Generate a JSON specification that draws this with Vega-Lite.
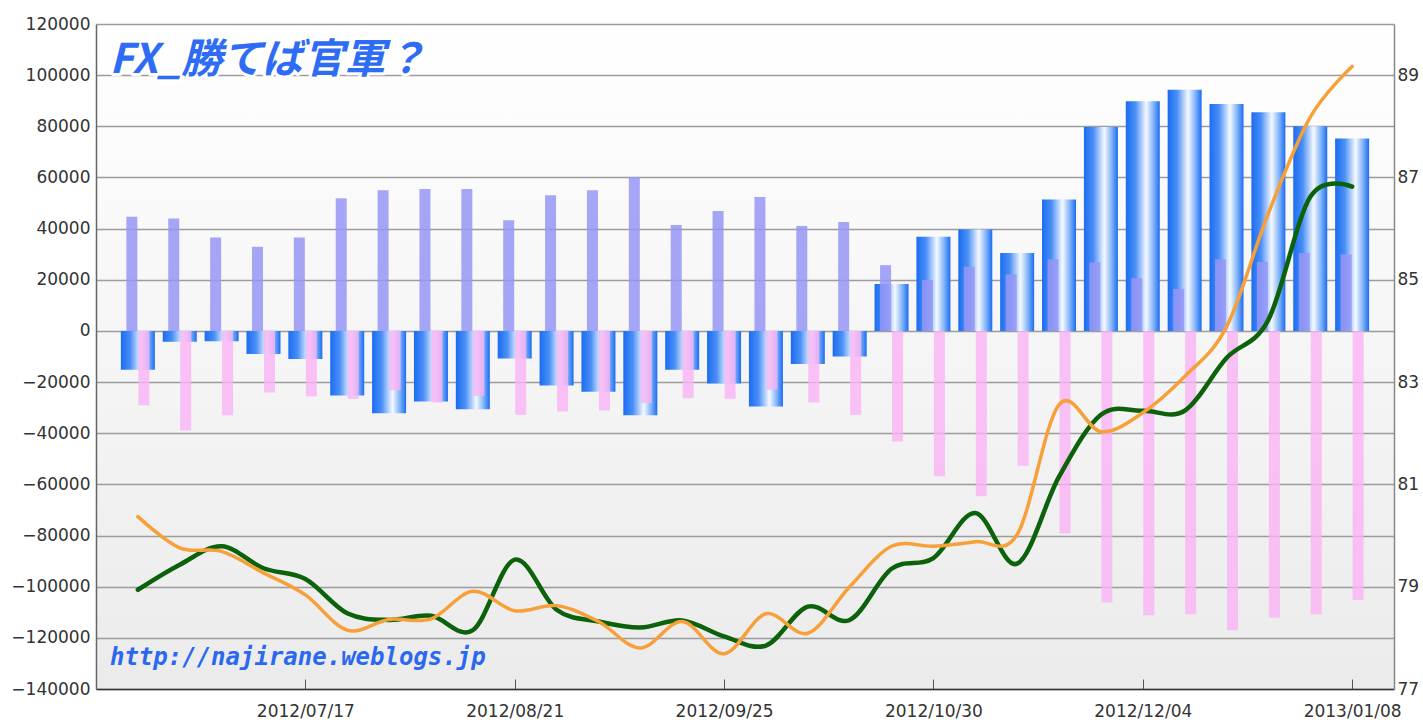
{
  "$schema": "https://vega.github.io/schema/vega-lite/v6.json",
  "width": 1298,
  "height": 665,
  "autosize": {"type": "none"},
  "padding": {"left": 96, "top": 24, "right": 29, "bottom": 31},
  "background": "#ffffff",
  "config": {
    "view": {"stroke": null, "fill": {"gradient": "linear", "x1": 0, "y1": 0, "x2": 0, "y2": 1, "stops": [{"offset": 0, "color": "#ffffff"}, {"offset": 1, "color": "#ebebeb"}]}},
    "axis": {"labelFont": "DejaVu Sans", "labelFontSize": 17, "labelColor": "#333333", "grid": false, "ticks": false}
  },
  "data": {"values": [
    {"week": "2012-06-19", "long": 44600, "short": -29100, "net": -15200, "rate1": 78.94, "rate2": 80.37},
    {"week": "2012-06-26", "long": 44000, "short": -38900, "net": -4200, "rate1": 79.43, "rate2": 79.76},
    {"week": "2012-07-03", "long": 36500, "short": -33000, "net": -4000, "rate1": 79.79, "rate2": 79.69},
    {"week": "2012-07-10", "long": 32900, "short": -24100, "net": -9000, "rate1": 79.36, "rate2": 79.27},
    {"week": "2012-07-17", "long": 36500, "short": -25600, "net": -11000, "rate1": 79.15, "rate2": 78.84},
    {"week": "2012-07-24", "long": 51900, "short": -26600, "net": -25200, "rate1": 78.48, "rate2": 78.15},
    {"week": "2012-07-31", "long": 55000, "short": -23200, "net": -32200, "rate1": 78.35, "rate2": 78.36},
    {"week": "2012-08-07", "long": 55500, "short": -28000, "net": -27600, "rate1": 78.43, "rate2": 78.37},
    {"week": "2012-08-14", "long": 55500, "short": -25400, "net": -30600, "rate1": 78.15, "rate2": 78.91},
    {"week": "2012-08-21", "long": 43300, "short": -32800, "net": -10800, "rate1": 79.53, "rate2": 78.53},
    {"week": "2012-08-28", "long": 53000, "short": -31500, "net": -21300, "rate1": 78.55, "rate2": 78.63},
    {"week": "2012-09-04", "long": 55000, "short": -31100, "net": -23800, "rate1": 78.32, "rate2": 78.32},
    {"week": "2012-09-11", "long": 60200, "short": -28200, "net": -33000, "rate1": 78.2, "rate2": 77.8},
    {"week": "2012-09-18", "long": 41400, "short": -26300, "net": -15200, "rate1": 78.34, "rate2": 78.32},
    {"week": "2012-09-25", "long": 46900, "short": -26500, "net": -20600, "rate1": 78.03, "rate2": 77.69},
    {"week": "2012-10-02", "long": 52400, "short": -23000, "net": -29500, "rate1": 77.85, "rate2": 78.47},
    {"week": "2012-10-09", "long": 41000, "short": -28000, "net": -12900, "rate1": 78.61, "rate2": 78.09},
    {"week": "2012-10-16", "long": 42600, "short": -32800, "net": -10000, "rate1": 78.35, "rate2": 79.0},
    {"week": "2012-10-23", "long": 25700, "short": -43200, "net": 18300, "rate1": 79.35, "rate2": 79.79},
    {"week": "2012-10-30", "long": 19900, "short": -56800, "net": 36800, "rate1": 79.56, "rate2": 79.79},
    {"week": "2012-11-06", "long": 25100, "short": -64600, "net": 39700, "rate1": 80.44, "rate2": 79.88},
    {"week": "2012-11-13", "long": 22100, "short": -52700, "net": 30500, "rate1": 79.45, "rate2": 80.02},
    {"week": "2012-11-20", "long": 28000, "short": -79200, "net": 51400, "rate1": 81.15, "rate2": 82.56},
    {"week": "2012-11-27", "long": 26800, "short": -106200, "net": 79700, "rate1": 82.36, "rate2": 82.03},
    {"week": "2012-12-04", "long": 20600, "short": -111200, "net": 89800, "rate1": 82.44, "rate2": 82.4},
    {"week": "2012-12-11", "long": 16400, "short": -110800, "net": 94300, "rate1": 82.44, "rate2": 83.11},
    {"week": "2012-12-18", "long": 28000, "short": -117000, "net": 88700, "rate1": 83.47, "rate2": 84.08},
    {"week": "2012-12-25", "long": 27000, "short": -112100, "net": 85500, "rate1": 84.22, "rate2": 86.3},
    {"week": "2013-01-01", "long": 30500, "short": -110800, "net": 80000, "rate1": 86.62, "rate2": 88.18},
    {"week": "2013-01-08", "long": 29900, "short": -105200, "net": 75200, "rate1": 86.82, "rate2": 89.17}
  ]},
  "layer": [
    {
      "layer": [
        {
          "mark": {"type": "bar", "width": 34, "color": {"gradient": "linear", "x1": 0, "y1": 0, "x2": 1, "y2": 0, "stops": [{"offset": 0, "color": "#1b6cf2"}, {"offset": 0.28, "color": "#4a8ff6"}, {"offset": 0.6, "color": "#f5f9ff"}, {"offset": 0.82, "color": "#7fb2f9"}, {"offset": 1, "color": "#1b6cf2"}]}},
          "encoding": {
            "x": {
              "field": "week", "type": "temporal",
              "scale": {"type": "utc", "padding": 0, "domain": [{"year": 2012, "month": 6, "date": 12, "utc": true}, {"year": 2013, "month": 1, "date": 15, "utc": true}]},
              "axis": {
                "title": null,
                "values": [
                  {"year": 2012, "month": 7, "date": 17, "utc": true},
                  {"year": 2012, "month": 8, "date": 21, "utc": true},
                  {"year": 2012, "month": 9, "date": 25, "utc": true},
                  {"year": 2012, "month": 10, "date": 30, "utc": true},
                  {"year": 2012, "month": 12, "date": 4, "utc": true},
                  {"year": 2013, "month": 1, "date": 8, "utc": true}
                ],
                "format": "%Y/%m/%d", "ticks": true, "tickSize": -10, "tickColor": "#555555", "tickWidth": 1,
                "labelPadding": 24, "labelOverlap": false, "labelFlush": false,
                "domainColor": "#333333", "domainWidth": 1.5
              }
            },
            "y": {
              "field": "net", "type": "quantitative",
              "scale": {"domain": [-140000, 120000], "nice": false},
              "axis": {"title": null, "orient": "left", "values": [-140000, -120000, -100000, -80000, -60000, -40000, -20000, 0, 20000, 40000, 60000, 80000, 100000, 120000], "format": "d", "grid": true, "gridColor": "#9c9c9c", "gridWidth": 1.3, "labelPadding": 6, "domainColor": "#666666", "domainWidth": 1.5}
            }
          }
        },
        {
          "mark": {"type": "bar", "width": 11, "xOffset": -6, "color": "#9696f6", "opacity": 0.85},
          "encoding": {
            "x": {"field": "week", "type": "temporal", "axis": {"title": null}},
            "y": {"field": "long", "type": "quantitative", "axis": {"title": null}}
          }
        },
        {
          "mark": {"type": "bar", "width": 11, "xOffset": 6, "color": "#f9b3f4", "opacity": 0.8},
          "encoding": {
            "x": {"field": "week", "type": "temporal", "axis": {"title": null}},
            "y": {"field": "short", "type": "quantitative", "axis": {"title": null}}
          }
        },
        {
          "data": {"values": [{}]},
          "mark": {"type": "text", "text": "FX_勝てば官軍？", "font": "Noto Sans CJK JP", "fontSize": 41, "fontWeight": "bold", "fontStyle": "italic", "align": "left", "baseline": "alphabetic", "color": "#ffffff", "stroke": "#ffffff", "strokeWidth": 6, "strokeJoin": "round"},
          "encoding": {
            "x": {"datum": {"year": 2012, "month": 6, "date": 14, "hours": 6, "utc": true}, "type": "temporal"},
            "y": {"datum": 100900, "type": "quantitative"}
          }
        },
        {
          "data": {"values": [{}]},
          "mark": {"type": "text", "text": "FX_勝てば官軍？", "font": "Noto Sans CJK JP", "fontSize": 41, "fontWeight": "bold", "fontStyle": "italic", "align": "left", "baseline": "alphabetic", "color": "#2e6cf5"},
          "encoding": {
            "x": {"datum": {"year": 2012, "month": 6, "date": 14, "hours": 6, "utc": true}, "type": "temporal"},
            "y": {"datum": 100900, "type": "quantitative"}
          }
        },
        {
          "data": {"values": [{}]},
          "mark": {"type": "text", "text": "http://najirane.weblogs.jp", "font": "DejaVu Sans Mono", "fontSize": 24, "fontWeight": "bold", "fontStyle": "italic", "align": "left", "baseline": "alphabetic", "color": "#2a68f2"},
          "encoding": {
            "x": {"datum": {"year": 2012, "month": 6, "date": 14, "hours": 8, "utc": true}, "type": "temporal"},
            "y": {"datum": -130800, "type": "quantitative"}
          }
        }
      ]
    },
    {
      "layer": [
        {
          "mark": {"type": "line", "interpolate": "cardinal", "color": "#0b620b", "strokeWidth": 4.5, "strokeCap": "round"},
          "encoding": {
            "x": {"field": "week", "type": "temporal", "axis": {"title": null}},
            "y": {
              "field": "rate1", "type": "quantitative",
              "scale": {"domain": [77, 90], "nice": false, "zero": false},
              "axis": {"title": null, "orient": "right", "values": [77, 79, 81, 83, 85, 87, 89], "labelPadding": 3, "domainColor": "#888888", "domainWidth": 1.5}
            }
          }
        },
        {
          "mark": {"type": "line", "interpolate": "cardinal", "color": "#f7a03a", "strokeWidth": 3.5, "strokeCap": "round"},
          "encoding": {
            "x": {"field": "week", "type": "temporal", "axis": {"title": null}},
            "y": {"field": "rate2", "type": "quantitative", "axis": {"title": null}}
          }
        }
      ]
    }
  ],
  "resolve": {"scale": {"y": "independent"}}
}
